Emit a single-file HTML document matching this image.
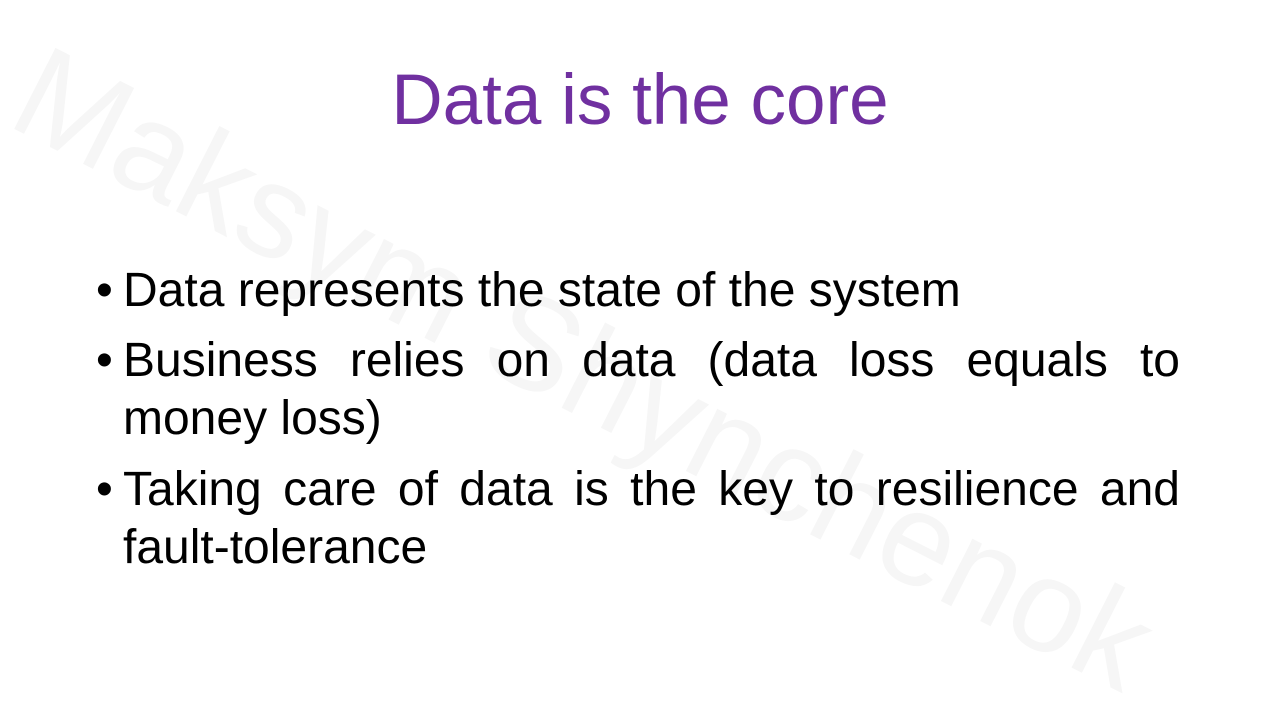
<!DOCTYPE html>
<html><head><meta charset="utf-8"><style>
html,body{margin:0;padding:0;background:#fff;overflow:hidden;}
.s{position:relative;width:1280px;height:720px;overflow:hidden;font-family:"Liberation Sans",sans-serif;}
.t{position:absolute;left:0;width:1280px;top:58px;text-align:center;color:#7030A0;font-size:71px;line-height:86px;}
.wm{position:absolute;left:55px;top:25px;font-size:132px;line-height:132px;color:#f6f6f6;transform:rotate(27deg);transform-origin:0 0;white-space:nowrap;}
.l{position:absolute;left:123px;width:1057px;font-size:48px;color:#000;line-height:56px;white-space:nowrap;}
.j{text-align:justify;text-align-last:justify;}
.b{position:absolute;left:-27px;}
</style></head><body><div class="s">
<div class="wm">Maksym Shynchenok</div>
<div class="t">Data is the core</div>
<div class="l" style="top:263px"><span class="b">•</span>Data represents the state of the system</div>
<div class="l j" style="top:333px"><span class="b">•</span>Business relies on data (data loss equals to</div>
<div class="l" style="top:391px">money loss)</div>
<div class="l j" style="top:462px"><span class="b">•</span>Taking care of data is the key to resilience and</div>
<div class="l" style="top:520px">fault-tolerance</div>
</div></body></html>
